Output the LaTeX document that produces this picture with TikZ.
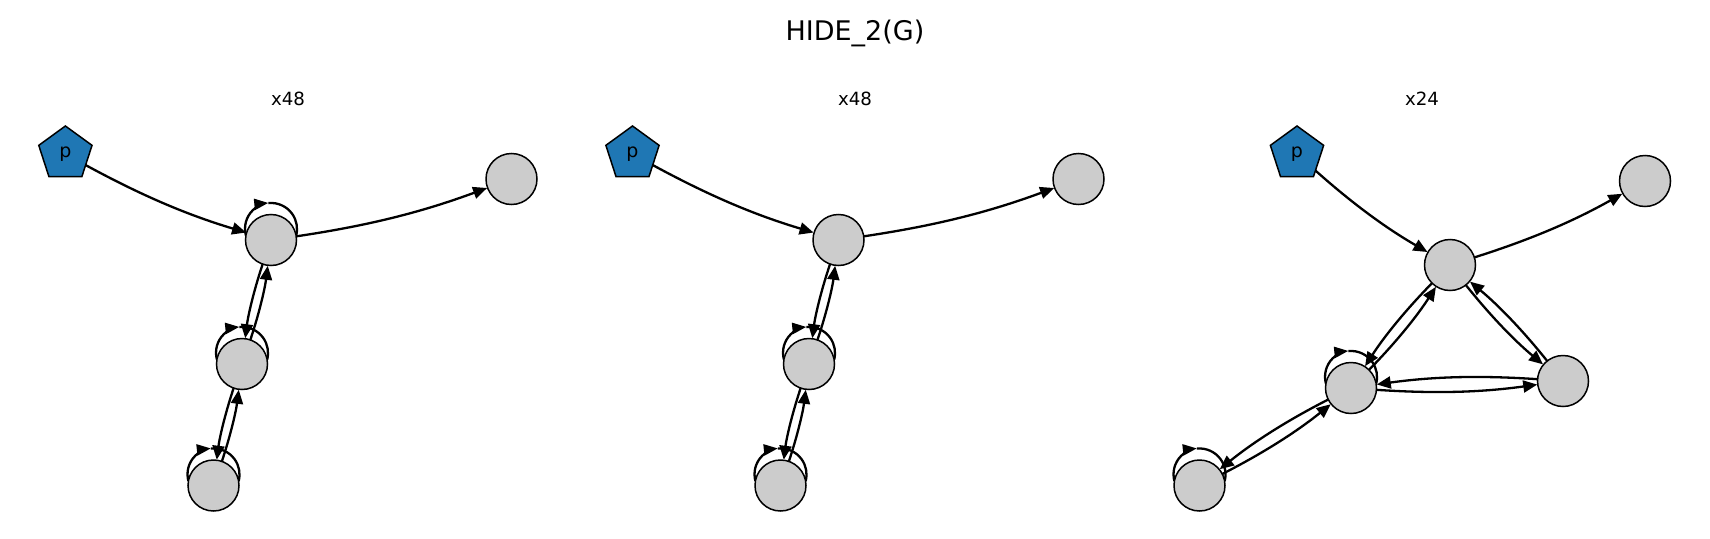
\documentclass[tikz,border=0pt]{standalone}
\usepackage{fontspec}
\setmainfont{DejaVu Sans}
\usepackage{tikz}
\usetikzlibrary{arrows.meta,shapes.geometric,backgrounds}
\definecolor{nxblue}{RGB}{31,119,180}
\definecolor{nxgray}{RGB}{204,204,204}
\tikzstyle{state} = [circle, minimum size=51pt, inner sep=0pt, draw=black, line width=1.5pt, fill=nxgray]
\tikzstyle{start} = [regular polygon, regular polygon sides=5, minimum size=56pt, inner sep=0pt, draw=black, line width=1.5pt, fill=nxblue, font=\fontsize{19}{22}\selectfont]
\tikzstyle{arrow} = [line width=2.3pt, -{Triangle[length=14pt,width=12pt]}, bend right=6, shorten <=20pt, shorten >=26pt]
\tikzstyle{loopline} = [line width=2.3pt]
\newcommand{\selfloop}[1]{%
  \draw[loopline, -{Triangle[length=14pt,width=11pt]}] (#1.center) ++(-25.1,4.5) arc[start angle=195, end angle=96, radius=26];
  \draw[loopline] (#1.center) ++(-2.7,36.9) arc[start angle=96, end angle=-15, radius=26];
}

\begin{document}
\begin{tikzpicture}[x=1pt, y=1pt]
\useasboundingbox (0,0) rectangle (1710,-538);
% Titles
\node (title) at (855,-40) [anchor=base, font=\fontsize{27}{32}\selectfont] {HIDE\_2(G)};
\node (label1) at (288,-105) [anchor=base, font=\fontsize{18.2}{22}\selectfont] {x48};
\node (label2) at (855,-105) [anchor=base, font=\fontsize{18.2}{22}\selectfont] {x48};
\node (label3) at (1422,-105) [anchor=base, font=\fontsize{18.2}{22}\selectfont] {x24};

% First panel
\node (p1) at (65.4,-154) [start] {p};
\node (a1) at (271,-240) [state] {};
\node (t1) at (511.5,-179) [state] {};
\node (b1) at (242,-364) [state] {};
\node (c1) at (213.5,-485.5) [state] {};

% Second panel
\node (p2) at (632.5,-154) [start] {p};
\node (a2) at (838.5,-240) [state] {};
\node (t2) at (1078.5,-179) [state] {};
\node (b2) at (809,-364) [state] {};
\node (c2) at (780.5,-485.5) [state] {};

% Third panel
\node (p3) at (1297,-154) [start] {p};
\node (a3) at (1450,-265) [state] {};
\node (t3) at (1645,-181) [state] {};
\node (d3) at (1563,-381) [state] {};
\node (b3) at (1351,-388) [state] {};
\node (c3) at (1199.5,-485.5) [state] {};

% Edges, centre to centre
\begin{pgfonlayer}{background}
\draw[arrow] (p1.center) to (a1.center);
\draw[arrow] (a1.center) to (t1.center);
\draw[arrow] (a1.center) to (b1.center);
\draw[arrow] (b1.center) to (a1.center);
\draw[arrow] (b1.center) to (c1.center);
\draw[arrow] (c1.center) to (b1.center);
\selfloop{a1}
\selfloop{b1}
\selfloop{c1}

\draw[arrow] (p2.center) to (a2.center);
\draw[arrow] (a2.center) to (t2.center);
\draw[arrow] (a2.center) to (b2.center);
\draw[arrow] (b2.center) to (a2.center);
\draw[arrow] (b2.center) to (c2.center);
\draw[arrow] (c2.center) to (b2.center);
\selfloop{b2}
\selfloop{c2}

\draw[arrow] (p3.center) to (a3.center);
\draw[arrow] (a3.center) to (t3.center);
\draw[arrow] (a3.center) to (b3.center);
\draw[arrow] (b3.center) to (a3.center);
\draw[arrow] (a3.center) to (d3.center);
\draw[arrow] (d3.center) to (a3.center);
\draw[arrow] (b3.center) to (d3.center);
\draw[arrow] (d3.center) to (b3.center);
\draw[arrow] (b3.center) to (c3.center);
\draw[arrow] (c3.center) to (b3.center);
\selfloop{b3}
\selfloop{c3}
\end{pgfonlayer}
\end{tikzpicture}
\end{document}
